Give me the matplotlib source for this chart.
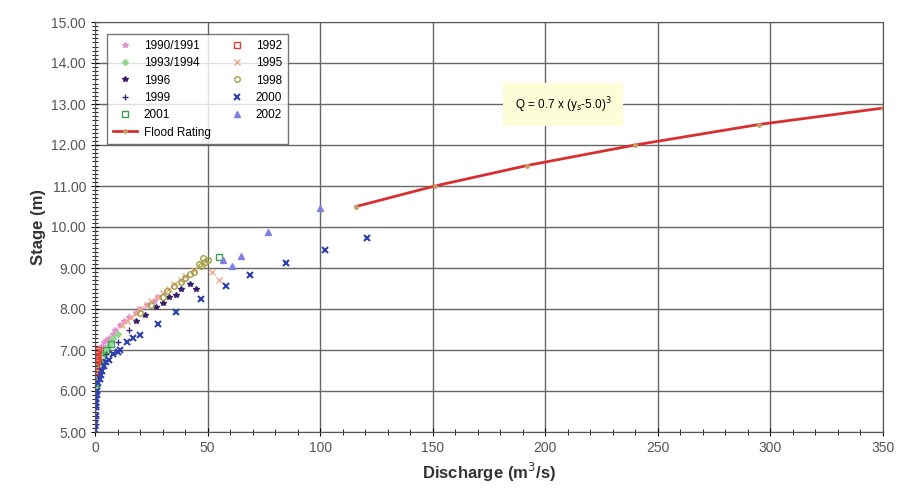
import matplotlib.pyplot as plt
from matplotlib.ticker import MultipleLocator, FormatStrFormatter

plt.rcParams['font.family'] = ['Liberation Sans', 'DejaVu Sans']

q_9091 = [1, 2, 3, 4, 5, 6, 8, 9, 11, 13, 15, 18, 20, 23, 26, 28]
h_9091 = [6.8, 7.0, 7.1, 7.2, 7.25, 7.3, 7.4, 7.5, 7.6, 7.7, 7.8, 7.9, 8.0, 8.1, 8.2, 8.3]
q_1992 = [0.2, 0.3, 0.5, 0.8, 1.0, 0.5, 1.5, 0.1, 0.4, 1.2]
h_1992 = [6.5, 6.6, 6.7, 6.8, 6.9, 6.95, 7.0, 6.4, 6.85, 6.75]
q_9394 = [0.5, 1, 1.5, 2, 2.5, 3, 4, 5, 6, 7, 8, 10]
h_9394 = [5.9, 6.1, 6.3, 6.5, 6.6, 6.7, 6.9, 7.0, 7.1, 7.2, 7.3, 7.4]
q_1995 = [12, 14, 16, 18, 20, 23, 25, 28, 30, 33, 35, 38, 40, 44, 48, 52, 55]
h_1995 = [7.6, 7.7, 7.8, 7.9, 8.0, 8.1, 8.2, 8.3, 8.4, 8.5, 8.6, 8.7, 8.8, 8.95, 9.1, 8.9, 8.7]
q_1996 = [18, 22, 27, 33, 38, 42, 45, 30, 36]
h_1996 = [7.7, 7.85, 8.05, 8.3, 8.5, 8.6, 8.5, 8.15, 8.35]
q_1998 = [20, 25, 30, 35, 40, 44, 47, 49, 50, 48, 46, 38, 42, 32]
h_1998 = [7.9, 8.1, 8.3, 8.55, 8.75, 8.9, 9.05, 9.15, 9.2, 9.25, 9.1, 8.65, 8.85, 8.45]
q_1999 = [0.2, 0.3, 0.5, 5, 10, 15]
h_1999 = [5.2, 5.4, 5.6, 6.9, 7.2, 7.5]
q_2000 = [0, 0.1, 0.2, 0.3, 0.4, 0.6, 0.8, 1, 1.5, 2, 2.5, 3, 4, 5, 6, 8, 10,
          11, 14, 17, 20, 28, 36, 47, 58, 69, 85, 102, 121]
h_2000 = [5.05, 5.2, 5.4, 5.6, 5.7, 5.8, 5.9, 6.0, 6.2, 6.3, 6.4, 6.5, 6.6,
          6.7, 6.75, 6.9, 6.95, 7.0, 7.2, 7.3, 7.37, 7.63, 7.93, 8.24, 8.55,
          8.83, 9.12, 9.44, 9.74]
q_2001 = [0.5, 1, 2, 3, 5, 7, 55]
h_2001 = [6.2, 6.4, 6.6, 6.8, 7.0, 7.15, 9.28]
q_2002 = [57, 61, 65, 77, 100]
h_2002 = [9.2, 9.05, 9.3, 9.88, 10.46]

# flood rating curve points
q_rating = [116, 151, 192, 240, 295, 350]
h_rating = [10.5, 11.0, 11.5, 12.0, 12.5, 12.9]

fig = plt.figure(figsize=(8.97, 5), dpi=100)
ax = fig.add_axes([0.106, 0.136, 0.878, 0.82])

ms = 4
ax.plot(q_9091, h_9091, ls='none', marker='*', color='#e58fd0', ms=ms, label='1990/1991')
ax.plot(q_9394, h_9394, ls='none', marker='D', color='#8fd88f', ms=3, label='1993/1994')
ax.plot(q_1996, h_1996, ls='none', marker='*', color='#3a1f6b', ms=ms, label='1996')
ax.plot(q_1999, h_1999, ls='none', marker='+', color='#3a2a70', ms=ms, label='1999')
ax.plot(q_2001, h_2001, ls='none', marker='s', mfc='none', mec='#3aa050', ms=ms, label='2001')
ax.plot(q_rating, h_rating, color='#d83030', lw=2, marker='o', ms=2.5,
        mfc='#c8a060', mec='#c8a060', label='Flood Rating')
ax.plot(q_1992, h_1992, ls='none', marker='s', mfc='none', mec='#e04030', ms=ms, label='1992')
ax.plot(q_1995, h_1995, ls='none', marker='x', color='#f0a890', ms=ms, label='1995')
ax.plot(q_1998, h_1998, ls='none', marker='o', mfc='none', mec='#a0a040', ms=ms, label='1998')
ax.plot(q_2000, h_2000, ls='none', marker='x', color='#3040b0', ms=ms, mew=1.5, label='2000')
ax.plot(q_2002, h_2002, ls='none', marker='^', color='#8080e0', ms=ms, label='2002')

ax.set_xlim(0, 350)
ax.set_ylim(5, 15)
ax.xaxis.set_major_locator(MultipleLocator(50))
ax.xaxis.set_minor_locator(MultipleLocator(10))
ax.yaxis.set_major_locator(MultipleLocator(1))
ax.yaxis.set_minor_locator(MultipleLocator(0.1))
ax.yaxis.set_major_formatter(FormatStrFormatter('%.2f'))
ax.grid(True, which='major', color='#666666', lw=1.0)
ax.tick_params(which='both', direction='inout', labelsize=10, labelcolor='#555555')
ax.tick_params(which='major', length=6)
ax.tick_params(which='minor', length=4)
for s in ax.spines.values():
    s.set_color('#555555')

ax.set_xlabel('Discharge (m$^3$/s)', fontsize=12, fontweight='bold', color='#333333')
ax.set_ylabel('Stage (m)', fontsize=12, fontweight='bold', color='#333333')

ax.text(208, 12.98, 'Q = 0.7 x (y$_s$-5.0)$^3$', fontsize=8.5, ha='center', va='center',
        bbox=dict(boxstyle='square,pad=1.0', fc='#fdfdd8', ec='none'))

leg = ax.legend(loc='upper left', bbox_to_anchor=(0.008, 0.985), ncol=2, fontsize=8.5,
                frameon=True, fancybox=False, edgecolor='#555555', handlelength=2,
                columnspacing=1.2, labelspacing=0.45, borderpad=0.5, handletextpad=0.6)
leg.get_frame().set_linewidth(1)

fig.savefig('out.png', dpi=100)
